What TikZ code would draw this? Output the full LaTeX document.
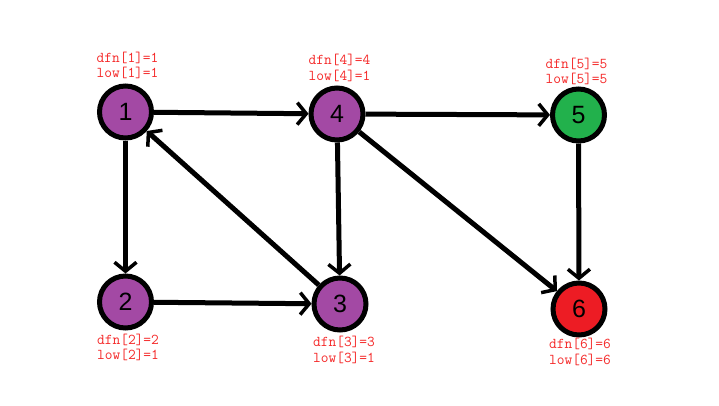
\documentclass[tikz,border=0pt]{standalone}
\usepackage{fontspec}
\newfontfamily\numfont{Liberation Sans}
\usetikzlibrary{arrows.meta}
\definecolor{vpurple}{RGB}{163,73,164}
\definecolor{vgreen}{RGB}{34,177,76}
\definecolor{vred}{RGB}{237,28,36}
\definecolor{lbl}{RGB}{245,40,40}
\begin{document}
\begin{tikzpicture}[x=1pt,y=-1pt,
  vtx/.style={circle, draw=black, line width=5pt, minimum size=52pt, inner sep=0pt,
    font=\numfont\fontsize{25}{25}\selectfont},
  edge/.style={line width=5pt, -{Straight Barb[length=9pt,width=22pt,line width=3.5pt]}},
  lab/.style={text=lbl, font=\ttfamily\fontsize{15}{15.5}\selectfont, align=center, inner sep=0pt}]
\useasboundingbox[fill=white] (0,0) rectangle (719,405);

\node[vtx, fill=vpurple] (n1) at (125.5,112) {1};
\node[vtx, fill=vpurple] (n4) at (337,114) {4};
\node[vtx, fill=vgreen]  (n5) at (578.5,115) {5};
\node[vtx, fill=vpurple] (n2) at (125.5,302) {2};
\node[vtx, fill=vpurple] (n3) at (340,304) {3};
\node[vtx, fill=vred]    (n6) at (579,309) {6};

\node[lab] (l1) at (127.5,65.5) {dfn[1]=1\\low[1]=1};
\node[lab] (l4) at (339.5,68) {dfn[4]=4\\low[4]=1};
\node[lab] (l5) at (576.5,71.5) {dfn[5]=5\\low[5]=5};
\node[lab] (l2) at (128,347.5) {dfn[2]=2\\low[2]=1};
\node[lab] (l3) at (344,350) {dfn[3]=3\\low[3]=1};
\node[lab] (l6) at (580,352) {dfn[6]=6\\low[6]=6};

\draw[edge] (n1) -- (n4);
\draw[edge] (n1) -- (n2);
\draw[edge] (n4) -- (n5);
\draw[edge] (n4) -- (n3);
\draw[edge] (n4) -- (n6);
\draw[edge] (n5) -- (n6);
\draw[edge] (n2) -- (n3);
\draw[edge] (n3) -- (n1);
\end{tikzpicture}
\end{document}
